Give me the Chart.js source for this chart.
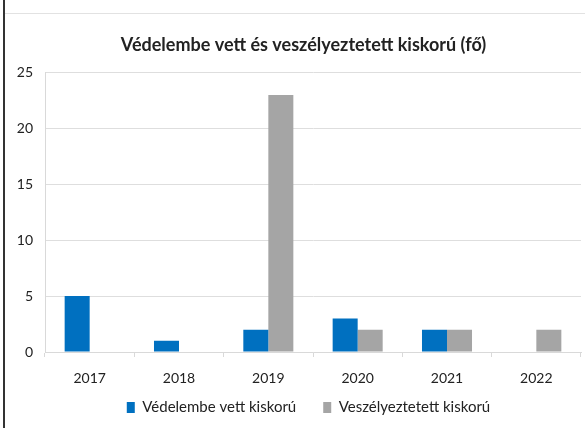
<!DOCTYPE html>
<html lang="hu">
<head>
    <meta charset="UTF-8">
    <title>Védelembe vett és veszélyeztetett kiskorú</title>
    <script src="https://cdn.jsdelivr.net/npm/chart.js"></script>
    <style>
        body { margin: 0; padding: 0; overflow: hidden; background: white; }
        #wrap { position: relative; width: 585px; height: 428px; }
        #edge { position: absolute; left: 3px; top: 0; width: 2px; height: 428px; background: #333; }
        #topline { position: absolute; left: 5px; top: 13px; width: 580px; height: 1px; background: #e2e2e2; }
    </style>
</head>
<body>
    <div id="wrap">
        <canvas id="chart" width="585" height="428"></canvas>
        <div id="edge"></div>
        <div id="topline"></div>
    </div>

    <script>
        const years = ['2017', '2018', '2019', '2020', '2021', '2022'];
        const vedelembeVett = [5, 1, 2, 3, 2, 0];
        const veszelyeztetett = [0, 0, 23, 2, 2, 2];
        const yTicks = [0, 5, 10, 15, 20, 25];

        const fontFamily = 'Lato, "Open Sans", sans-serif';
        const textColor = '#222222';

        // small layout nudges: title/legend sit a bit right of centre in the original,
        // and the x axis labels hang into the legend's top padding
        const layoutTweaks = {
            id: 'layoutTweaks',
            afterLayout(chart) {
                chart.legend.left += 36;
                chart.titleBlock.left += 26;
                const x = chart.scales.x;
                x.bottom = x.top + 40;
            }
        };

        const ctx = document.getElementById('chart').getContext('2d');
        new Chart(ctx, {
            type: 'bar',
            data: {
                labels: years,
                datasets: [
                    {
                        label: 'Védelembe vett kiskorú',
                        data: vedelembeVett,
                        backgroundColor: '#0070c0',
                        categoryPercentage: 0.56,
                        barPercentage: 1.0
                    },
                    {
                        label: 'Veszélyeztetett kiskorú',
                        data: veszelyeztetett,
                        backgroundColor: '#a5a5a5',
                        categoryPercentage: 0.56,
                        barPercentage: 1.0
                    }
                ]
            },
            plugins: [layoutTweaks],
            options: {
                responsive: false,
                animation: false,
                layout: { padding: { left: 0, right: 4, top: 0, bottom: 3 } },
                plugins: {
                    title: {
                        display: true,
                        text: 'Védelembe vett és veszélyeztetett kiskorú (fő)',
                        color: textColor,
                        font: { family: fontFamily, size: 18, weight: 'bold' },
                        padding: { top: 34, bottom: 17 }
                    },
                    legend: {
                        position: 'bottom',
                        labels: {
                            color: textColor,
                            font: { family: fontFamily, size: 15 },
                            boxWidth: 8,
                            boxHeight: 11,
                            padding: 27
                        }
                    },
                    tooltip: { enabled: false }
                },
                scales: {
                    x: {
                        afterFit: scale => { scale.height = 21; },
                        grid: {
                            display: true,
                            drawOnChartArea: false,
                            tickLength: 5,
                            color: '#d9d9d9'
                        },
                        border: { color: '#d9d9d9' },
                        ticks: {
                            color: textColor,
                            font: { family: fontFamily, size: 14 },
                            padding: 13
                        }
                    },
                    y: {
                        min: 0,
                        max: 25,
                        afterFit: scale => { scale.width = 45; },
                        afterBuildTicks: scale => { scale.ticks = yTicks.map(v => ({ value: v })); },
                        grid: { color: '#dedede', drawTicks: false },
                        border: { color: '#d9d9d9' },
                        ticks: {
                            color: textColor,
                            font: { family: fontFamily, size: 14 },
                            padding: 12
                        }
                    }
                }
            }
        });
    </script>
</body>
</html>
